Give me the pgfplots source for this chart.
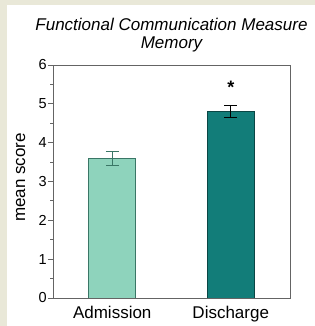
\documentclass[border=0pt]{standalone}
\usepackage{pgfplots}
\pgfplotsset{compat=1.18}
\usepackage{fontspec}
\setmainfont{Liberation Sans}
\definecolor{beigebg}{RGB}{233,232,216}
\definecolor{axgray}{RGB}{100,100,100}
\definecolor{admfill}{RGB}{142,211,188}
\definecolor{admedge}{RGB}{58,118,102}
\definecolor{disfill}{RGB}{18,125,121}
\definecolor{disedge}{RGB}{10,70,68}
\begin{document}
\begin{tikzpicture}
\useasboundingbox (0,0) rectangle (315pt,326pt);
\fill[beigebg] (0,0) rectangle (315pt,326pt);
\fill[white] (7pt,0) rectangle (315pt,321pt);
\begin{axis}[
  at={(53pt,28pt)}, anchor=south west,
  scale only axis, width=237pt, height=233pt,
  xmin=-0.5, xmax=1.5, ymin=0, ymax=6,
  xtick={0,1}, xticklabels={Admission,Discharge},
  major x tick style={draw=none},
  ytick={0,1,2,3,4,5,6}, minor y tick num=1,
  ytick pos=left, tick align=outside,
  major tick length=5pt, minor tick length=2.5pt,
  axis line style={axgray, line width=0.9pt}, tick style={axgray, line width=0.9pt},
  x tick label style={font=\fontsize{17}{17}\selectfont},
  y tick label style={font=\fontsize{14.5}{15}\selectfont, inner sep=1pt},
  /pgf/number format/assume math mode=true,
  ybar, bar width=47pt, bar shift=0pt,
  title={Functional Communication Measure\\Memory},
  title style={font=\itshape\fontsize{17}{18}\selectfont, align=center,
    at={(axis description cs:0.5,1)}, anchor=south, inner sep=0pt, yshift=6.4pt},
  ylabel={mean score},
  ylabel style={font=\fontsize{17}{17}\selectfont, at={(axis description cs:-0.118,0.517)}, anchor=base},
]
\addplot[fill=admfill, draw=admedge, line width=0.9pt,
  error bars/.cd, y dir=both, y explicit,
  error bar style={color=admedge, line width=0.9pt},
  error mark options={rotate=90, mark size=6.4pt, line width=0.9pt, color=admedge}]
  coordinates {(0,3.6) +- (0,0.18)};
\addplot[fill=disfill, draw=disedge, line width=0.9pt,
  error bars/.cd, y dir=both, y explicit,
  error bar style={color=black, line width=0.9pt},
  error mark options={rotate=90, mark size=6.4pt, line width=0.9pt, color=black}]
  coordinates {(1,4.8) +- (0,0.16)};
\node[anchor=base, font=\bfseries\fontsize{18}{18}\selectfont] at (axis cs:1,5.27) {*};
\end{axis}
\end{tikzpicture}
\end{document}
